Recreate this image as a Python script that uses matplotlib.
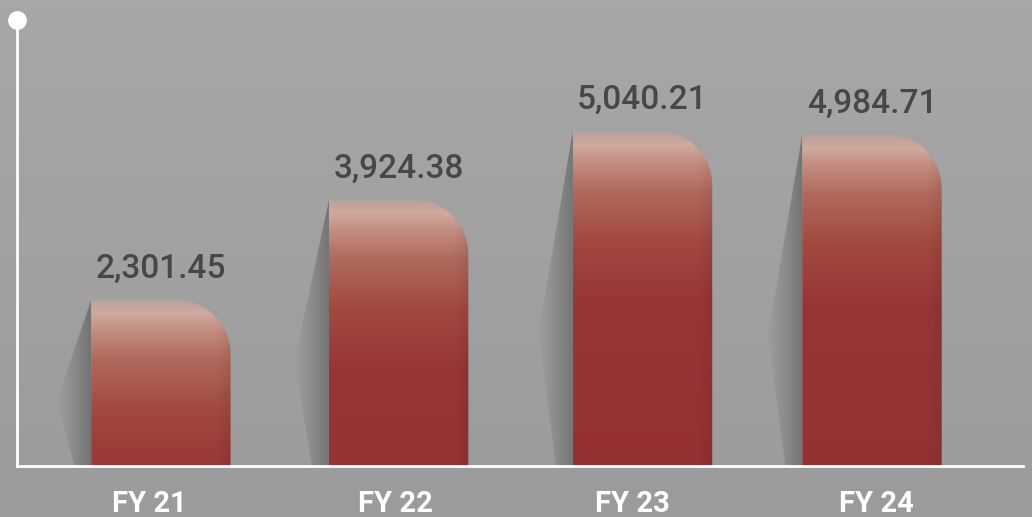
import numpy as np
import matplotlib
matplotlib.use("Agg")
import matplotlib.pyplot as plt
from matplotlib.path import Path
from matplotlib.patches import PathPatch
from matplotlib.transforms import IdentityTransform
from matplotlib.colors import to_rgb

# ---- data ----
categories = ["FY 21", "FY 22", "FY 23", "FY 24"]
values = [2301.45, 3924.38, 5040.21, 4984.71]
value_labels = ["2,301.45", "3,924.38", "5,040.21", "4,984.71"]

# ---- layout (positions, not data) ----
bar_pos = np.array([0.0, 1.003, 2.032, 3.0])
tick_pos = np.array([-0.05, 0.988, 1.987, 3.019])

W, H, DPI = 1032, 517, 100
fig = plt.figure(figsize=(W / DPI, H / DPI), dpi=DPI)
fig.patch.set_facecolor("#a0a0a0")

# background gradient
bg = fig.add_axes([0, 0, 1, 1])
bg.set_axis_off()
gy = np.linspace(0, 1, 256)[:, None]
top_c = np.array(to_rgb("#a7a7a7"))
bot_c = np.array(to_rgb("#9b9b9b"))
grad = top_c[None, None, :] * (1 - gy[..., None]) + bot_c[None, None, :] * gy[..., None]
grad = np.repeat(grad, 4, axis=1)
bg.imshow(grad, extent=[0, 1, 0, 1], aspect="auto", origin="upper")
bg.set_xlim(0, 1)
bg.set_ylim(0, 1)

# main axes
left_px, right_px, top_px, base_px = 17, 1023, 20, 466
ax = fig.add_axes([left_px / W, (H - base_px) / H,
                   (right_px - left_px) / W, (base_px - top_px) / H])
ax.patch.set_alpha(0)

ymin, ymax = -390, 6840
ax.set_xlim(-0.607, 3.637)
ax.set_ylim(ymin, ymax)
bar_w = 0.588

for s in ["top", "right"]:
    ax.spines[s].set_visible(False)
for s in ["left", "bottom"]:
    ax.spines[s].set_color("white")
    ax.spines[s].set_linewidth(2)
ax.set_yticks([])
ax.set_xticks(tick_pos)
ax.set_xticklabels(categories, color="white", fontsize=21, fontweight="bold",
                   family=["Roboto", "DejaVu Sans"])
ax.tick_params(axis="x", length=0, pad=17)

# top dot on the y axis
ax.plot([ax.get_xlim()[0]], [ymax], marker="o", markersize=12.5, color="white",
        clip_on=False, zorder=10)

# gradient stops (distance from bar top in px -> colour)
stops_px = [0, 5, 14, 30, 60, 110, 170, 400]
stops_col = ["#aba5a3", "#c2a39c", "#cfaa9f", "#c48f82", "#b06a5c",
             "#a2493f", "#983637", "#932f31"]
stops_rgb = np.array([to_rgb(c) for c in stops_col])

shadow_dark = np.array(to_rgb("#737373"))
shadow_light = np.array(to_rgb("#9d9d9d"))

radius = 54
td = ax.transData
for xi, v, lab in zip(bar_pos, values, value_labels):
    (L, B) = td.transform((xi - bar_w / 2, ymin))
    (R, T) = td.transform((xi + bar_w / 2, v))
    h = T - B

    # --- left shadow ---
    sw = 34
    spath = Path([(L, T), (L - sw, B + 0.4 * h), (L - sw * 0.5, B), (L, B), (L, T)],
                 [Path.MOVETO, Path.LINETO, Path.LINETO, Path.LINETO, Path.CLOSEPOLY])
    spatch = PathPatch(spath, transform=IdentityTransform(), facecolor="none",
                       edgecolor="none")
    ax.add_patch(spatch)
    t = np.linspace(0, 1, 64)[None, :]
    simg = shadow_light[None, None, :] * (1 - t[..., None] ** 1.3) + \
        shadow_dark[None, None, :] * (t[..., None] ** 1.3)
    simg = np.repeat(simg, 4, axis=0)
    x0d = td.inverted().transform((L - sw - 2, B))[0]
    im = ax.imshow(simg, extent=[x0d, xi - bar_w / 2, ymin, v], aspect="auto",
                   zorder=1, interpolation="bilinear")
    im.set_clip_path(spatch)

    # --- bar with rounded top-right corner ---
    r = min(radius, h)
    k = 0.5523
    verts = [(L, B), (L, T), (R - r, T),
             (R - r + k * r, T), (R, T - r + k * r), (R, T - r),
             (R, B), (L, B)]
    codes = [Path.MOVETO, Path.LINETO, Path.LINETO,
             Path.CURVE4, Path.CURVE4, Path.CURVE4,
             Path.LINETO, Path.CLOSEPOLY]
    bpatch = PathPatch(Path(verts, codes), transform=IdentityTransform(),
                       facecolor="none", edgecolor="none")
    ax.add_patch(bpatch)
    n = int(round(h))
    d = np.arange(n) + 0.5
    img = np.stack([np.interp(d, stops_px, stops_rgb[:, c]) for c in range(3)], axis=1)
    img = img[:, None, :].repeat(40, axis=1)
    xs = np.linspace(0, 1, 40)
    shade = 1 - 0.07 * np.clip((xs - 0.9) / 0.1, 0, 1)
    img = img * shade[None, :, None]
    im = ax.imshow(img, extent=[xi - bar_w / 2, xi + bar_w / 2, ymin, v],
                   origin="upper", aspect="auto", zorder=2, interpolation="bilinear")
    im.set_clip_path(bpatch)

    # value label
    ax.annotate(lab, xy=(xi, v), xytext=(0, 31), textcoords="offset pixels",
                ha="center", va="center", fontsize=24, color="#474747",
                fontweight="medium", family=["Roboto", "DejaVu Sans"],
                zorder=5)

ax.set_xlim(-0.607, 3.637)
ax.set_ylim(ymin, ymax)

fig.savefig("out.png", dpi=DPI, facecolor=fig.get_facecolor())
